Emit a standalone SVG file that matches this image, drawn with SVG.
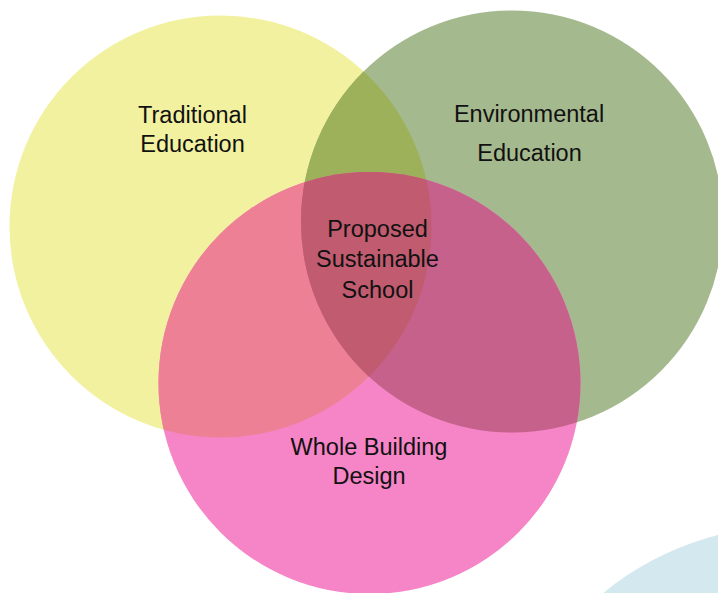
<svg xmlns="http://www.w3.org/2000/svg" width="718" height="593" viewBox="0 0 718 593">
<style>
.lbl{font-family:"Liberation Sans",Arial,sans-serif;font-size:23.5px;fill:#111;text-anchor:middle}
</style>
<defs>
<clipPath id="cY"><circle cx="220.5" cy="226.5" r="211"/></clipPath>
<clipPath id="cG"><circle cx="512" cy="221.5" r="211"/></clipPath>
<clipPath id="cP"><circle cx="369.5" cy="383" r="211"/></clipPath>
</defs>
<rect width="718" height="593" fill="#ffffff"/>
<circle id="deco" cx="790" cy="820" r="294" fill="#D4E9EF"/>
<g id="traditional">
<circle cx="220.5" cy="226.5" r="211" fill="#F2F1A0"/>
</g>
<g id="environmental">
<circle cx="512" cy="221.5" r="211" fill="#A5B98E"/>
</g>
<g id="whole-building">
<circle cx="369.5" cy="383" r="211" fill="#F585C6"/>
</g>
<g id="overlaps">
<circle cx="220.5" cy="226.5" r="211" fill="#9DB15B" clip-path="url(#cG)"/>
<circle cx="369.5" cy="383" r="211" fill="#ED8095" clip-path="url(#cY)"/>
<circle cx="369.5" cy="383" r="211" fill="#C6618B" clip-path="url(#cG)"/>
<g clip-path="url(#cY)"><circle cx="369.5" cy="383" r="211" fill="#C05B70" clip-path="url(#cG)"/></g>
</g>
<g id="labels">
<text class="lbl" x="192.5" y="123">Traditional</text>
<text class="lbl" x="192.5" y="152">Education</text>
<text class="lbl" x="529" y="122">Environmental</text>
<text class="lbl" x="529.5" y="160.5">Education</text>
<text class="lbl" x="377.5" y="237">Proposed</text>
<text class="lbl" x="377.5" y="266.5">Sustainable</text>
<text class="lbl" x="377.5" y="298">School</text>
<text class="lbl" x="369" y="455">Whole Building</text>
<text class="lbl" x="369" y="484">Design</text>
</g>
<g id="connectors"></g>
</svg>
